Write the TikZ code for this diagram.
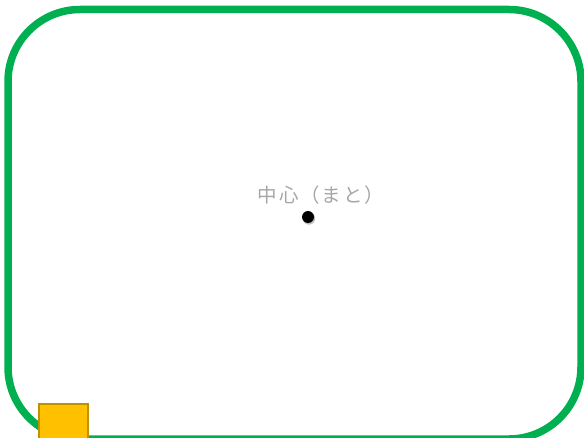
\documentclass[tikz,border=0pt]{standalone}
\usepackage{fontspec}
\newfontfamily\cjk[LetterSpace=10]{Noto Sans CJK JP}
\definecolor{framegreen}{HTML}{00B050}
\definecolor{boxyellow}{HTML}{FFC000}
\definecolor{boxedge}{HTML}{BF9000}
\definecolor{labelgray}{HTML}{A6A6A6}
\begin{document}
\begin{tikzpicture}[x=1pt, y=1pt]
        \useasboundingbox (0,0) rectangle (584,437);
        \clip (0,0) rectangle (584,437);

        % Outer frame: green rounded rectangle
        \draw[line width=7.5pt, framegreen, rounded corners=72pt] (8,-2) rectangle (581,427.5);

        % Yellow square in the lower left corner
        \draw[line width=2pt, boxedge, fill=boxyellow] (39,33) rectangle (88,-16);

        % Centre point with a faint shadow
        \fill[black!25] (309,218.5) circle (6.2);
        \fill[black] (308,220) circle (6);
        \coordinate (centre) at (308,220);

        % Label above the centre point
        \node[labelgray, font=\cjk\fontsize{19.5}{20}\selectfont, inner sep=0pt] (centrelabel) at (321,242) {中心（まと）};
    \end{tikzpicture}
\end{document}
